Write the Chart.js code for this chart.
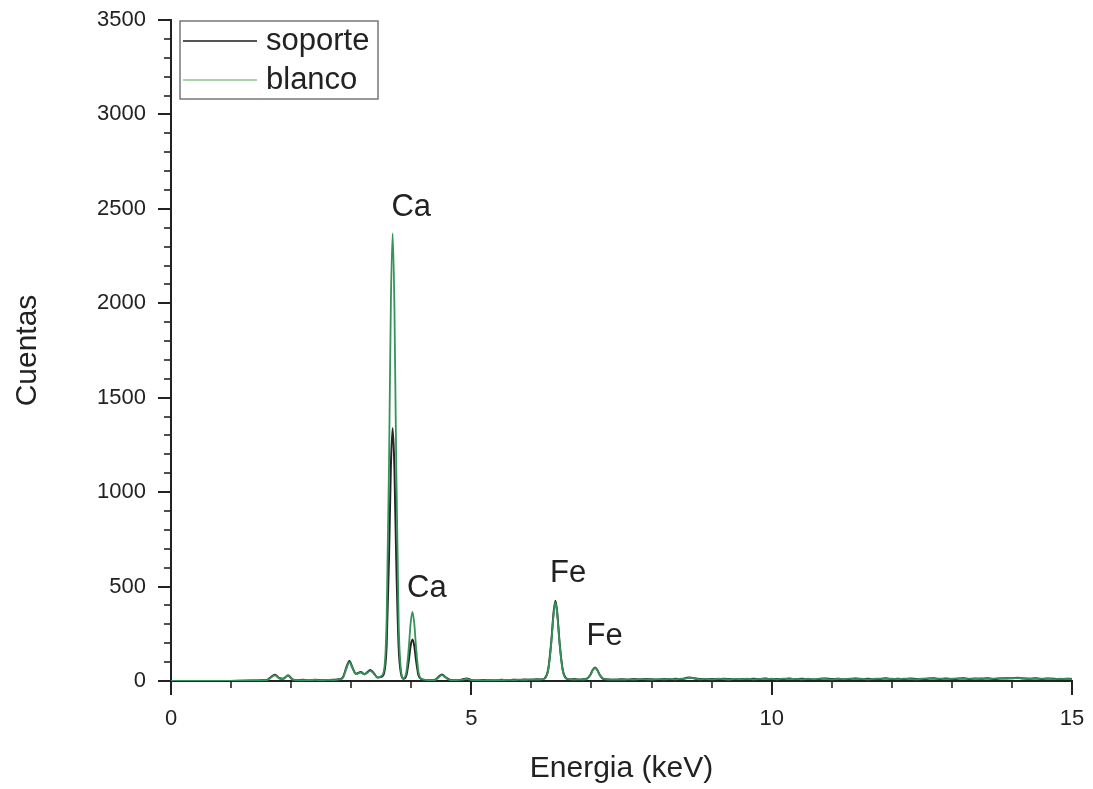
<!DOCTYPE html>
<html>
<head>
<meta charset="utf-8">
<title>Espectro soporte / blanco</title>
<script src="https://cdn.jsdelivr.net/npm/chart.js@4.4.1/dist/chart.umd.min.js"></script>
<style>
  html, body { margin: 0; padding: 0; background: #fff; }
  #wrap { width: 1093px; height: 789px; }
</style>
</head>
<body>
<div id="wrap"><canvas id="espectro" width="1093" height="789"></canvas></div>
<script>
// energia (keV) - malla irregular, mas densa en los picos
const energia = [
  0.0, 0.3, 0.6, 0.9, 1.1, 1.3, 1.4, 1.5, 1.6, 1.66, 1.73, 1.80, 1.86, 1.95, 2.02,
  2.1, 2.2, 2.3, 2.4, 2.5, 2.6, 2.7, 2.8, 2.86, 2.92, 2.97, 3.02, 3.08, 3.16, 3.22,
  3.26, 3.32, 3.38, 3.44, 3.50, 3.55, 3.59, 3.63, 3.66, 3.69, 3.72, 3.75, 3.79, 3.83, 3.87,
  3.92, 3.96, 3.99, 4.02, 4.05, 4.08, 4.12, 4.17, 4.25, 4.33, 4.40, 4.46, 4.51, 4.57, 4.65,
  4.75, 4.85, 4.92, 5.0, 5.1, 5.2, 5.3, 5.4, 5.5, 5.6, 5.7, 5.8, 5.9, 6.0, 6.1,
  6.16, 6.22, 6.28, 6.33, 6.37, 6.40, 6.43, 6.47, 6.52, 6.58, 6.65, 6.72, 6.80, 6.86, 6.92,
  6.98, 7.02, 7.06, 7.10, 7.14, 7.20, 7.3, 7.4, 7.5, 7.6, 7.7, 7.8, 7.9, 8.0, 8.1,
  8.2, 8.3, 8.4, 8.5, 8.58, 8.64, 8.70, 8.8, 8.9, 9.0, 9.1, 9.2, 9.3, 9.4, 9.5,
  9.6, 9.7, 9.8, 9.9, 10.0, 10.1, 10.2, 10.3, 10.4, 10.5, 10.6, 10.7, 10.8, 10.9, 11.0,
  11.1, 11.2, 11.3, 11.4, 11.5, 11.6, 11.7, 11.8, 11.9, 12.0, 12.1, 12.2, 12.3, 12.4, 12.5,
  12.6, 12.7, 12.8, 12.9, 13.0, 13.1, 13.2, 13.3, 13.4, 13.5, 13.6, 13.7, 13.8, 13.9, 14.0,
  14.1, 14.2, 14.3, 14.4, 14.5, 14.6, 14.7, 14.8, 14.9, 15.0
];

const soporte = [
  0, 0, 0, 0, 1, 3, 2, 4, 6, 20, 33, 16, 12, 29, 9,
  4, 6, 3, 7, 4, 5, 6, 9, 18, 72, 106, 72, 38, 48, 36,
  44, 58, 40, 18, 22, 45, 190, 660, 1130, 1340, 1120, 640, 180, 38, 12,
  32, 112, 188, 220, 186, 108, 30, 10, 5, 4, 7, 24, 34, 20, 6,
  4, 8, 13, 6, 3, 5, 4, 3, 6, 4, 7, 5, 8, 6, 9,
  8, 14, 62, 205, 365, 425, 362, 200, 62, 14, 8, 10, 7, 9, 12,
  32, 58, 72, 57, 31, 11, 8, 6, 9, 7, 10, 8, 11, 9, 7,
  10, 8, 12, 10, 16, 19, 14, 10, 8, 11, 9, 12, 10, 8, 11,
  9, 12, 10, 13, 9, 11, 10, 13, 9, 12, 10, 8, 11, 13, 10,
  12, 9, 11, 13, 10, 12, 9, 11, 14, 10, 12, 9, 13, 11, 10,
  12, 14, 11, 13, 10, 12, 14, 11, 13, 12, 14, 11, 13, 15, 14,
  17, 13, 12, 14, 11, 13, 12, 10, 12, 11
];

const blanco = [
  0, 0, 0, 0, 1, 2, 3, 3, 5, 17, 30, 14, 11, 31, 8,
  5, 4, 5, 6, 3, 6, 5, 8, 16, 66, 100, 68, 36, 45, 35,
  42, 54, 38, 18, 26, 65, 330, 1160, 1990, 2370, 1970, 1140, 310, 55, 14,
  52, 182, 308, 366, 304, 178, 48, 12, 6, 5, 6, 20, 31, 18, 5,
  5, 7, 11, 5, 4, 3, 5, 4, 5, 6, 5, 7, 6, 8, 7,
  9, 12, 60, 198, 355, 416, 354, 196, 58, 13, 9, 8, 9, 8, 11,
  30, 56, 70, 55, 30, 12, 7, 8, 7, 9, 8, 10, 9, 8, 10,
  9, 11, 9, 12, 14, 17, 15, 9, 11, 9, 12, 10, 8, 11, 10,
  12, 9, 11, 10, 12, 9, 13, 10, 11, 9, 12, 10, 13, 11, 9,
  12, 10, 13, 10, 12, 9, 11, 13, 11, 12, 10, 13, 11, 9, 12,
  14, 11, 13, 10, 12, 14, 12, 13, 11, 14, 12, 13, 15, 13, 16,
  15, 14, 13, 11, 13, 12, 10, 12, 11, 10
];

// marcas de los ejes
const marcasX = [0, 5, 10, 15];
const marcasY = [0, 500, 1000, 1500, 2000, 2500, 3000, 3500];

// etiquetas de los picos (keV, cuentas)
const etiquetas = [
  { texto: "Ca", x: 4.0, y: 2510 },
  { texto: "Ca", x: 4.26, y: 492 },
  { texto: "Fe", x: 6.61, y: 572 },
  { texto: "Fe", x: 7.22, y: 238 }
];

const FUENTE = "'Liberation Sans', Arial, sans-serif";
const NEGRO = "#222";
const colorSoporte = "#262626";
const colorBlanco = "#33935a";

function puntos(valores) {
  return energia.map((e, i) => ({ x: e, y: valores[i] }));
}

// sin relleno automatico por etiquetas: el area del grafico la fija layout.padding
function sinRelleno(s) {
  s.paddingLeft = s.paddingRight = s.paddingTop = s.paddingBottom = 0;
}

// marcas menores y mayores hacia fuera de los ejes
const marcasPlugin = {
  id: "marcas",
  afterDraw(chart) {
    const { ctx, chartArea, scales } = chart;
    ctx.save();
    ctx.strokeStyle = NEGRO;
    for (let v = 0; v <= 15; v += 1) {
      const px = Math.round(scales.x.getPixelForValue(v));
      const mayor = v % 5 === 0;
      ctx.lineWidth = mayor ? 2 : 1.6;
      ctx.beginPath();
      ctx.moveTo(px, chartArea.bottom);
      ctx.lineTo(px, chartArea.bottom + (mayor ? 14 : 7));
      ctx.stroke();
    }
    for (let v = 0; v <= 3500; v += 100) {
      const py = Math.round(scales.y.getPixelForValue(v));
      const mayor = v % 500 === 0;
      ctx.lineWidth = mayor ? 2 : 1.6;
      ctx.beginPath();
      ctx.moveTo(chartArea.left, py);
      ctx.lineTo(chartArea.left - (mayor ? 13 : 7), py);
      ctx.stroke();
    }
    ctx.restore();
  }
};

const etiquetasPlugin = {
  id: "etiquetas",
  afterDatasetsDraw(chart) {
    const { ctx, scales } = chart;
    ctx.save();
    ctx.fillStyle = NEGRO;
    ctx.font = "31px " + FUENTE;
    ctx.textAlign = "center";
    ctx.textBaseline = "middle";
    etiquetas.forEach(et => {
      ctx.fillText(et.texto, scales.x.getPixelForValue(et.x), scales.y.getPixelForValue(et.y));
    });
    ctx.restore();
  }
};

// leyenda con recuadro dentro del area del grafico
const leyendaPlugin = {
  id: "leyendaCaja",
  afterDraw(chart) {
    const { ctx, chartArea } = chart;
    const x0 = chartArea.left + 9;
    const y0 = chartArea.top + 1;
    ctx.save();
    ctx.strokeStyle = "#777";
    ctx.lineWidth = 1.5;
    ctx.strokeRect(x0, y0, 198, 78);
    ctx.font = "31px " + FUENTE;
    ctx.textBaseline = "middle";
    ctx.textAlign = "left";
    chart.data.datasets.forEach((ds, i) => {
      const y = y0 + 20 + i * 39;
      ctx.strokeStyle = ds.legendColor || ds.borderColor;
      ctx.lineWidth = 2;
      ctx.beginPath();
      ctx.moveTo(x0 + 3, y);
      ctx.lineTo(x0 + 77, y);
      ctx.stroke();
      ctx.fillStyle = NEGRO;
      ctx.fillText(ds.label, x0 + 86, y);
    });
    ctx.restore();
  }
};

new Chart(document.getElementById("espectro"), {
  type: "line",
  data: {
    datasets: [
      {
        label: "soporte",
        data: puntos(soporte),
        borderColor: colorSoporte,
        legendColor: "#555",
        borderWidth: 2,
        pointRadius: 0,
        cubicInterpolationMode: "monotone",
        order: 2
      },
      {
        label: "blanco",
        data: puntos(blanco),
        borderColor: colorBlanco,
        legendColor: "#a8d4b0",
        borderWidth: 1.8,
        pointRadius: 0,
        cubicInterpolationMode: "monotone",
        order: 1
      }
    ]
  },
  options: {
    responsive: false,
    animation: false,
    layout: { autoPadding: false, padding: { left: 6, top: 20, right: 21, bottom: 0 } },
    plugins: { legend: { display: false }, tooltip: { enabled: false } },
    scales: {
      x: {
        type: "linear",
        min: 0,
        max: 15,
        afterBuildTicks(s) { s.ticks = marcasX.map(v => ({ value: v })); },
        afterFit(s) { s.height = 108; sinRelleno(s); },
        ticks: {
          color: NEGRO, font: { family: FUENTE, size: 22 }, padding: 25, maxRotation: 0,
          callback: v => String(v)
        },
        grid: { display: false, drawTicks: false },
        border: { display: true, color: NEGRO, width: 2 },
        title: {
          display: true,
          text: "Energia (keV)",
          color: NEGRO,
          font: { family: FUENTE, size: 30 },
          padding: { top: 0, bottom: 2 }
        }
      },
      y: {
        min: 0,
        max: 3500,
        afterBuildTicks(s) { s.ticks = marcasY.map(v => ({ value: v })); },
        afterFit(s) { s.width = 165; sinRelleno(s); },
        ticks: {
          color: NEGRO, font: { family: FUENTE, size: 22 }, padding: 25,
          callback: v => String(v)
        },
        grid: { display: false, drawTicks: false },
        border: { display: true, color: NEGRO, width: 2 },
        title: {
          display: true,
          text: "Cuentas",
          color: NEGRO,
          font: { family: FUENTE, size: 30 },
          padding: { top: 4, bottom: 0 }
        }
      }
    }
  },
  plugins: [marcasPlugin, etiquetasPlugin, leyendaPlugin]
});
</script>
</body>
</html>
